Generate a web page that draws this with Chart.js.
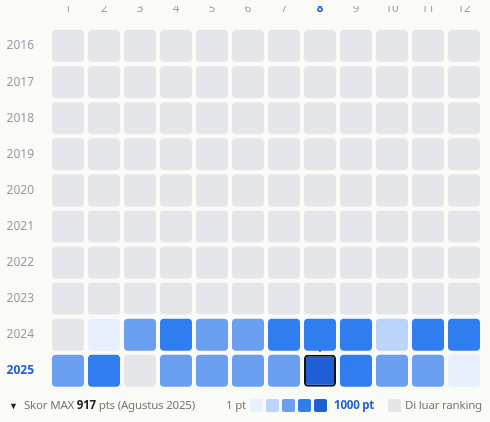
<!DOCTYPE html>
<html>
<head>
<meta charset="utf-8">
<script src="https://cdn.jsdelivr.net/npm/chart.js@4/dist/chart.umd.min.js"></script>
<style>
  body { margin:0; background:#fafaf7; font-family:"Noto Sans", sans-serif; }
  #wrap { position:relative; width:490px; height:422px; }
  #legend { position:absolute; left:0; top:395px; width:490px; height:22px; font-size:11.5px; color:#777; letter-spacing:-0.2px; }
  #legend span { position:absolute; top:2px; }
  .sw { position:absolute; top:4px; width:13px; height:13px; border-radius:2px; }
</style>
</head>
<body>
<div id="wrap">
  <canvas id="myChart" width="490" height="404"></canvas>
  <div id="legend">
    <span style="left:9px;font-size:9px;top:4px;color:#222">&#9660;</span>
    <span style="left:24px">Skor MAX <b style="color:#222">917</b> pts (Agustus 2025)</span>
    <span style="left:226px">1 pt</span>
    <div class="sw" style="left:250px;background:#e8f0fe"></div>
    <div class="sw" style="left:266px;background:#bcd3fa"></div>
    <div class="sw" style="left:282px;background:#6b9ff0"></div>
    <div class="sw" style="left:298px;background:#2f7def"></div>
    <div class="sw" style="left:314px;background:#1f5fd6"></div>
    <span style="left:334px;color:#1f5fd6;font-weight:bold">1000 pt</span>
    <div class="sw" style="left:388px;background:#e5e6ea"></div>
    <span style="left:405px">Di luar ranking</span>
  </div>
</div>
<script>
const months = ["1","2","3","4","5","6","7","8","9","10","11","12"];
const years = [2016,2017,2018,2019,2020,2021,2022,2023,2024,2025];
// level 0 = out of ranking, 1..5 = score bucket
const levels = {
  2016:[0,0,0,0,0,0,0,0,0,0,0,0],
  2017:[0,0,0,0,0,0,0,0,0,0,0,0],
  2018:[0,0,0,0,0,0,0,0,0,0,0,0],
  2019:[0,0,0,0,0,0,0,0,0,0,0,0],
  2020:[0,0,0,0,0,0,0,0,0,0,0,0],
  2021:[0,0,0,0,0,0,0,0,0,0,0,0],
  2022:[0,0,0,0,0,0,0,0,0,0,0,0],
  2023:[0,0,0,0,0,0,0,0,0,0,0,0],
  2024:[0,1,3,4,3,3,4,4,4,2,4,4],
  2025:[3,4,0,3,3,3,3,5,4,3,3,1]
};
const palette = ["#e5e6ea","#e8f0fe","#bcd3fa","#6b9ff0","#2f7def","#1f5fd6"];
const maxYear = 2025, maxMonth = 8;

const datasets = years.map(y => ({
  type: "bar",
  grouped: false,
  data: months.map(() => [y - 0.444, y + 0.444]),
  backgroundColor: levels[y].map(l => palette[l]),
  borderColor: months.map((m, i) => (y === maxYear && i + 1 === maxMonth) ? "#111" : "rgba(0,0,0,0)"),
  borderWidth: months.map((m, i) => (y === maxYear && i + 1 === maxMonth) ? 2 : 0),
  borderSkipped: false,
  borderRadius: 4,
  barPercentage: 0.89,
  categoryPercentage: 1
}));
datasets.push({
  type: "scatter",
  data: [{ x: String(maxMonth), y: maxYear - 0.6 }],
  pointStyle: "triangle",
  rotation: 180,
  radius: 3.5,
  backgroundColor: "#222",
  borderWidth: 0
});

new Chart("myChart", {
  data: { labels: months, datasets: datasets },
  options: {
    responsive: false,
    animation: false,
    layout: { padding: { top: 6, right: 8, bottom: 2 } },
    plugins: { legend: { display: false }, tooltip: { enabled: false } },
    scales: {
      x: {
        type: "category",
        position: "top",
        grid: { display: false },
        border: { display: false },
        afterFit: s => { s.height = 22; },
        ticks: {
          padding: 4,
          font: ctx => ({ family: "Noto Sans", size: 11.5, weight: ctx.index === maxMonth - 1 ? "bold" : "normal" }),
          color: ctx => ctx.index === maxMonth - 1 ? "#1f5fd6" : "#a89a9e"
        }
      },
      y: {
        type: "linear",
        reverse: true,
        min: 2015.5,
        max: 2025.5,
        grid: { display: false },
        border: { display: false },
        afterFit: s => { s.width = 50; },
        afterBuildTicks: s => { s.ticks = years.map(v => ({ value: v })); },
        ticks: {
          padding: 8,
          callback: v => String(v),
          font: ctx => ({ family: "Noto Sans", size: 12, weight: ctx.tick && ctx.tick.value === maxYear ? "bold" : "normal" }),
          color: ctx => ctx.tick && ctx.tick.value === maxYear ? "#1f5fd6" : "#999aa8"
        }
      }
    }
  }
});
</script>
</body>
</html>
